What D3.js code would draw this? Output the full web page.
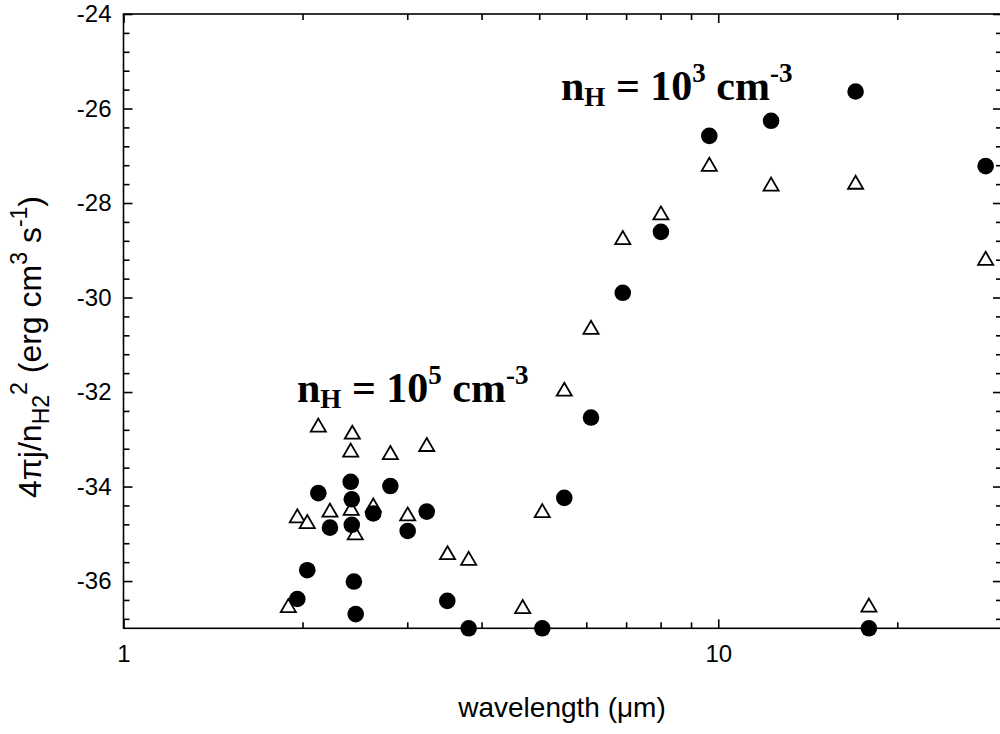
<!DOCTYPE html>
<html lang="en">
<head>
    <meta charset="UTF-8">
    <title>H2 line emissivity</title>
    <script src="https://d3js.org/d3.v7.min.js"></script>
    <style>
        body { margin: 0; background: #fff; }
        svg { display: block; }
    </style>
</head>
<body>
<script>
    const width  = 1000;
    const height = 734;
    const x0 = 123.5, x1 = 1002, y0 = 14, y1 = 628.3;

    // filled circles
    const solidX = [1.96, 2.037, 2.126, 2.224, 2.41, 2.42, 2.42, 2.44, 2.457, 2.63, 2.81, 3.005, 3.235,
                    3.503, 3.805, 5.06, 5.51, 6.11, 6.91, 8.01, 9.66, 12.27, 17.02, 17.92, 28.16];
    const solidY = [-36.38, -35.77, -34.14, -34.87, -33.90, -34.27, -34.81, -36.01, -36.70, -34.57, -33.99, -34.94, -34.53,
                    -36.42, -37.0, -37.0, -34.24, -32.54, -29.90, -28.61, -26.58, -26.26, -25.64, -37.0, -27.22];

    // open triangles
    const openX = [1.893, 1.96, 2.037, 2.126, 2.224, 2.41, 2.415, 2.425, 2.453, 2.63, 2.81, 3.005, 3.235,
                   3.506, 3.805, 4.69, 5.06, 5.51, 6.11, 6.91, 8.01, 9.66, 12.27, 17.02, 17.92, 28.16];
    const openY = [-36.52, -34.62, -34.74, -32.70, -34.50, -33.23, -34.46, -32.85, -34.98, -34.39, -33.28, -34.58, -33.11,
                   -35.40, -35.52, -36.54, -34.51, -31.94, -30.63, -28.73, -28.21, -27.18, -27.60, -27.56, -36.51, -29.17];

    const xMajor = [1, 10];
    const xMinor = [2, 3, 4, 5, 6, 7, 8, 9, 20];
    const yMajor = [-36, -34, -32, -30, -28, -26, -24];

    const scaleX = d3.scaleLog().domain([1, 30]).range([x0, x1]);
    const scaleY = d3.scaleLinear().domain([-37, -24]).range([y1, y0]);

    const yMinor = d3.range(0, 33).filter(i => i % 5 !== 0).map(i => -24 - i * 0.4);

    const svg = d3.select("body").append("svg").attr("width", width).attr("height", height);
    const axes = svg.append("g").attr("class", "axes");

    function styleAxis(g) {
        g.select(".domain").remove();
        g.selectAll(".tick line").attr("stroke", "#000").attr("stroke-width", 1.6);
        g.selectAll(".tick text")
            .attr("fill", "#000")
            .style("font-family", "'Liberation Sans', Arial, sans-serif")
            .style("font-size", "24px");
    }

    // bottom
    axes.append("g").attr("transform", "translate(0," + y1 + ")")
        .call(d3.axisBottom(scaleX).tickValues(xMajor).tickFormat(d3.format("d"))
            .tickSize(-9).tickSizeOuter(0).tickPadding(17))
        .call(styleAxis);
    axes.append("g").attr("transform", "translate(0," + y1 + ")")
        .call(d3.axisBottom(scaleX).tickValues(xMinor).tickFormat("").tickSize(-6).tickSizeOuter(0))
        .call(styleAxis);
    // top (mirror)
    axes.append("g").attr("transform", "translate(0," + y0 + ")")
        .call(d3.axisTop(scaleX).tickValues(xMajor).tickFormat("").tickSize(-9).tickSizeOuter(0))
        .call(styleAxis);
    axes.append("g").attr("transform", "translate(0," + y0 + ")")
        .call(d3.axisTop(scaleX).tickValues(xMinor).tickFormat("").tickSize(-6).tickSizeOuter(0))
        .call(styleAxis);
    // left
    axes.append("g").attr("transform", "translate(" + x0 + ",0)")
        .call(d3.axisLeft(scaleY).tickValues(yMajor).tickFormat(d3.format("d"))
            .tickSize(-9).tickSizeOuter(0).tickPadding(12))
        .call(styleAxis);
    axes.append("g").attr("transform", "translate(" + x0 + ",0)")
        .call(d3.axisLeft(scaleY).tickValues(yMinor).tickFormat("").tickSize(-6).tickSizeOuter(0))
        .call(styleAxis);
    // right (mirror)
    axes.append("g").attr("transform", "translate(" + x1 + ",0)")
        .call(d3.axisRight(scaleY).tickValues(yMajor).tickFormat("").tickSize(-9).tickSizeOuter(0))
        .call(styleAxis);
    axes.append("g").attr("transform", "translate(" + x1 + ",0)")
        .call(d3.axisRight(scaleY).tickValues(yMinor).tickFormat("").tickSize(-6).tickSizeOuter(0))
        .call(styleAxis);

    axes.selectAll(".tick text").filter(function () { return this.textContent.startsWith("\u2212"); })
        .text(function () { return "-" + this.textContent.slice(1); });

    // frame
    svg.append("rect")
        .attr("x", x0).attr("y", y0)
        .attr("width", x1 - x0).attr("height", y1 - y0)
        .attr("fill", "none").attr("stroke", "#000").attr("stroke-width", 1.6);

    // markers
    const tri = {
        draw(ctx, size) {
            const h = Math.sqrt(size), w = h * 0.58;
            ctx.moveTo(0, -h / 2);
            ctx.lineTo(w, h / 2);
            ctx.lineTo(-w, h / 2);
            ctx.closePath();
        }
    };
    const triSym = d3.symbol().type(tri).size(170);
    const dotSym = d3.symbol().type(d3.symbolCircle).size(216);

    svg.append("g").selectAll("path")
        .data(d3.zip(openX, openY)).enter()
        .append("path")
        .attr("d", triSym)
        .attr("fill", "#fff").attr("stroke", "#000").attr("stroke-width", 1.8)
        .attr("transform", d => "translate(" + [scaleX(d[0]), scaleY(d[1])] + ")");

    svg.append("g").selectAll("path")
        .data(d3.zip(solidX, solidY)).enter()
        .append("path")
        .attr("d", dotSym)
        .attr("fill", "#000")
        .attr("transform", d => "translate(" + [scaleX(d[0]), scaleY(d[1])] + ")");

    // annotations
    function density(x, y, exp) {
        const t = svg.append("text")
            .attr("x", x).attr("y", y)
            .style("font-family", "'Liberation Serif', 'Times New Roman', serif")
            .style("font-weight", "bold")
            .style("font-size", "42px");
        t.append("tspan").text("n");
        t.append("tspan").attr("dy", 6).style("font-size", "27px").text("H");
        t.append("tspan").attr("dy", -6).text(" = 10");
        t.append("tspan").attr("dy", -18).style("font-size", "27px").text(exp);
        t.append("tspan").attr("dy", 18).text(" cm");
        t.append("tspan").attr("dy", -18).style("font-size", "27px").text("-3");
    }
    density(561, 100, "3");
    density(297, 402, "5");

    // axis titles
    svg.append("text")
        .attr("x", 562).attr("y", 717)
        .attr("text-anchor", "middle")
        .style("font-family", "'Liberation Sans', Arial, sans-serif")
        .style("font-size", "28px")
        .text("wavelength (\u03bcm)");

    const yt = svg.append("text")
        .attr("transform", "translate(41,347) rotate(-90)")
        .attr("text-anchor", "middle")
        .style("font-family", "'Liberation Sans', Arial, sans-serif")
        .style("font-size", "32px");
    yt.append("tspan").text("4\u03c0j/n");
    yt.append("tspan").attr("dy", 8).style("font-size", "23px").text("H2");
    yt.append("tspan").attr("dy", -22).style("font-size", "23px").text("2");
    yt.append("tspan").attr("dy", 14).text(" (erg cm");
    yt.append("tspan").attr("dy", -14).style("font-size", "23px").text("3");
    yt.append("tspan").attr("dy", 14).text(" s");
    yt.append("tspan").attr("dy", -14).style("font-size", "23px").text("-1");
    yt.append("tspan").attr("dy", 14).text(")");
</script>
</body>
</html>
